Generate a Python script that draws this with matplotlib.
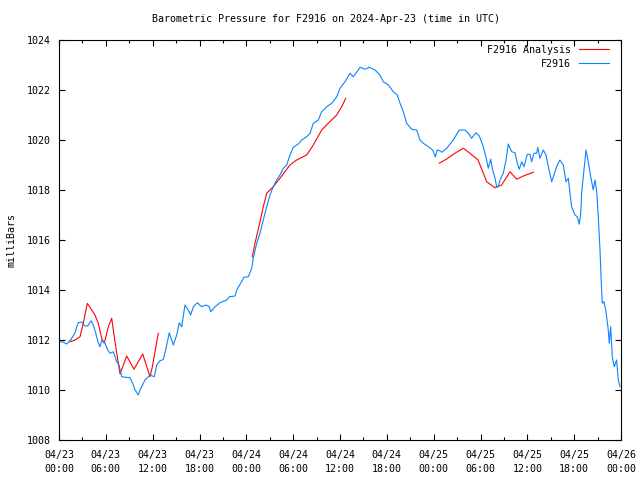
import matplotlib
matplotlib.use("Agg")
import matplotlib.pyplot as plt
import numpy as np

# hours since 2024-04-23 00:00 UTC
obs_hours = [0.00, 0.51, 0.99, 1.41, 2.05, 2.27, 2.47, 2.91, 3.33, 3.68, 4.10, 4.39, 4.70, 5.03, 5.25, 5.47,
             5.89, 6.24, 6.53, 6.96, 7.17, 7.39, 7.69, 8.03, 9.09, 9.44, 9.74, 10.16, 10.38, 11.02, 11.66,
             12.21, 12.52, 12.94, 13.36, 13.71, 14.13, 14.64, 15.08, 15.41, 15.72, 16.14, 16.56, 16.87,
             17.21, 17.72, 18.28, 18.83, 19.26, 19.43, 19.99, 20.63, 21.48, 21.82, 22.55, 22.77, 23.28,
             23.70, 24.25, 24.69, 24.89, 25.33, 25.75, 26.17, 26.61, 27.03, 27.45, 27.89, 28.31, 28.74,
             29.17, 29.59, 30.02, 30.66, 31.09, 31.73, 32.16, 32.58, 33.22, 33.66, 34.30, 34.94, 35.58,
             36.00, 36.64, 37.28, 37.70, 38.34, 38.56, 39.20, 39.75, 40.48, 41.12, 41.55, 42.19, 42.83,
             43.34, 43.69, 44.11, 44.54, 45.18, 45.82, 46.25, 46.67, 47.31, 47.87, 48.21, 48.46, 48.81,
             49.03, 49.67, 50.51, 51.28, 52.01, 52.44, 52.87, 53.42, 53.85, 54.36, 54.79, 55.00, 55.31,
             55.56, 55.86, 56.07, 56.28, 56.50, 56.92, 57.27, 57.56, 58.00, 58.42, 58.71, 58.97, 59.28,
             59.57, 60.00, 60.34, 60.56, 60.85, 61.20, 61.33, 61.62, 62.04, 62.39, 62.69, 63.12, 63.54,
             63.84, 64.18, 64.61, 64.95, 65.25, 65.46, 65.68, 66.10, 66.40, 66.66, 66.84, 66.97, 67.17,
             67.52, 67.81, 68.12, 68.45, 68.67, 68.89, 69.09, 69.31, 69.44, 69.60, 69.82, 70.08, 70.37,
             70.50, 70.68, 70.88, 71.14, 71.44, 71.65, 71.87]
obs_mb = [1011.93, 1011.92, 1011.84, 1011.97, 1012.28, 1012.53, 1012.69, 1012.72, 1012.56, 1012.56, 1012.77,
          1012.60, 1012.28, 1011.88, 1011.73, 1012.00, 1011.87, 1011.60, 1011.47, 1011.53, 1011.33, 1011.13,
          1011.00, 1010.53, 1010.49, 1010.27, 1010.00, 1009.80, 1010.00, 1010.40, 1010.60, 1010.53, 1011.00,
          1011.17, 1011.22, 1011.67, 1012.29, 1011.80, 1012.20, 1012.69, 1012.53, 1013.40, 1013.20, 1013.00,
          1013.33, 1013.49, 1013.33, 1013.40, 1013.33, 1013.13, 1013.33, 1013.49, 1013.60, 1013.73, 1013.76,
          1014.00, 1014.27, 1014.51, 1014.53, 1014.87, 1015.27, 1015.87, 1016.27, 1016.80, 1017.33, 1017.80,
          1018.13, 1018.40, 1018.60, 1018.87, 1019.00, 1019.40, 1019.71, 1019.84, 1020.00, 1020.13, 1020.27,
          1020.67, 1020.80, 1021.13, 1021.33, 1021.47, 1021.73, 1022.07, 1022.33, 1022.67, 1022.53, 1022.80,
          1022.91, 1022.83, 1022.91, 1022.80, 1022.60, 1022.33, 1022.20, 1021.93, 1021.80, 1021.47, 1021.13,
          1020.67, 1020.43, 1020.40, 1020.00, 1019.87, 1019.73, 1019.60, 1019.33, 1019.60, 1019.57, 1019.51,
          1019.67, 1020.00, 1020.40, 1020.40, 1020.27, 1020.07, 1020.29, 1020.16, 1019.73, 1019.20, 1018.87,
          1019.23, 1018.80, 1018.47, 1018.13, 1018.13, 1018.40, 1018.67, 1019.20, 1019.84, 1019.53, 1019.49,
          1019.07, 1018.83, 1019.13, 1018.93, 1019.43, 1019.43, 1019.13, 1019.47, 1019.47, 1019.71, 1019.27,
          1019.60, 1019.40, 1018.93, 1018.33, 1018.73, 1019.00, 1019.20, 1019.00, 1018.33, 1018.47, 1017.87,
          1017.33, 1017.00, 1016.93, 1016.63, 1017.07, 1017.93, 1018.53, 1019.60, 1019.13, 1018.53, 1018.00,
          1018.40, 1017.93, 1016.93, 1015.60, 1014.53, 1013.47, 1013.53, 1013.13, 1012.40, 1011.87, 1012.53,
          1011.33, 1010.93, 1011.20, 1010.40, 1010.13]

# analysis series (NaN separates the three runs)
ana_hours = [1.41, 2.05, 2.69, 3.11, 3.63, 4.19, 4.61, 5.03, 5.47, 5.80, 6.32, 6.75, 7.17, 7.60, 7.82, 8.67,
             9.61, 10.72, 11.66, 11.95, 12.72, np.nan,
             24.76, 25.11, 25.75, 26.17, 26.61, 27.45, 28.31, 29.59, 30.45, 31.73, 32.58, 33.66, 34.50,
             35.58, 36.22, 36.73, np.nan,
             48.72, 49.67, 50.73, 51.80, 52.65, 53.68, 54.36, 54.79, 55.86, 56.71, 57.78, 58.64, 59.49, 60.76]
ana_mb = [1011.93, 1012.00, 1012.13, 1012.67, 1013.47, 1013.20, 1013.00, 1012.67, 1012.07, 1011.87, 1012.53,
          1012.87, 1011.93, 1011.07, 1010.64, 1011.36, 1010.83, 1011.44, 1010.53, 1010.91, 1012.27, np.nan,
          1015.33, 1015.87, 1016.73, 1017.33, 1017.87, 1018.13, 1018.47, 1019.00, 1019.20, 1019.40, 1019.80,
          1020.40, 1020.67, 1021.00, 1021.33, 1021.67, np.nan,
          1019.07, 1019.24, 1019.47, 1019.67, 1019.47, 1019.20, 1018.67, 1018.33, 1018.09, 1018.20, 1018.73,
          1018.43, 1018.56, 1018.71]

x_ticks = list(range(0, 73, 6))
x_ticklabels = ["04/23\n00:00", "04/23\n06:00", "04/23\n12:00", "04/23\n18:00",
                "04/24\n00:00", "04/24\n06:00", "04/24\n12:00", "04/24\n18:00",
                "04/25\n00:00", "04/25\n06:00", "04/25\n12:00", "04/25\n18:00",
                "04/26\n00:00"]
y_ticks = list(range(1008, 1025, 2))

FONT = "DejaVu Sans Mono"
FS = 7.2
plt.rcParams["font.family"] = FONT
plt.rcParams["font.size"] = FS

fig = plt.figure(figsize=(6.4, 4.8), dpi=100)
ax = fig.add_axes([59/640, 1 - 440/480, 562/640, 400/480])

ax.plot(ana_hours, ana_mb, color="#ff0000", lw=0.8, label="F2916 Analysis")
ax.plot(obs_hours, obs_mb, color="#0a84ff", lw=0.8, label="F2916")

ax.set_xlim(0, 72)
ax.set_ylim(1008, 1024)
ax.set_xticks(x_ticks)
ax.set_xticklabels(x_ticklabels, linespacing=1.5)
ax.set_xticks(list(range(3, 72, 6)), minor=True)
ax.set_yticks(y_ticks)
ax.tick_params(which="both", direction="in", top=True, right=True, width=0.8, color="black",
               labelsize=FS)
ax.tick_params(which="major", length=4.5)
ax.tick_params(which="minor", length=2.5)
ax.tick_params(axis="x", pad=7)
ax.tick_params(axis="y", pad=6)
for s in ax.spines.values():
    s.set_linewidth(0.8)
    s.set_color("black")

fig.text(12/640, 0.5, "milliBars", rotation=90, ha="center", va="center", fontsize=FS)

fig.text(326/640, 1 - 19/480, "Barometric Pressure for F2916 on 2024-Apr-23 (time in UTC)",
         ha="center", va="center", fontsize=FS)

leg = ax.legend(loc="upper right", bbox_to_anchor=(0.989, 1.0), frameon=False, markerfirst=False,
                handlelength=3.0, handletextpad=0.8, borderaxespad=0.25, borderpad=0.3,
                labelspacing=0.4, fontsize=FS)
try:
    vp = leg._legend_box._children[-1]._children[0]
    for c in vp._children:
        c.align = "right"
    vp.align = "right"
except Exception:
    pass

fig.savefig("out.png", dpi=100)
